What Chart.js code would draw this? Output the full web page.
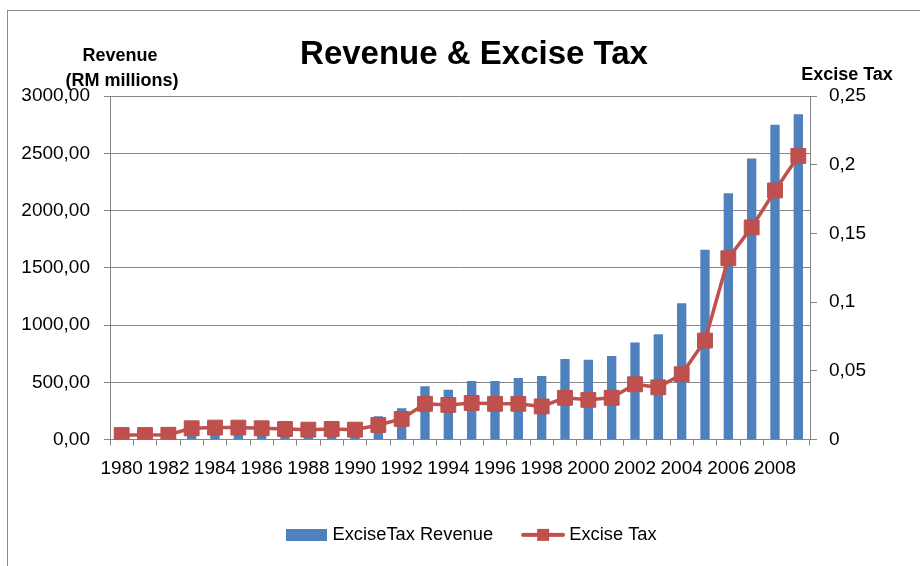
<!DOCTYPE html>
<html>
<head>
<meta charset="utf-8">
<script src="https://cdn.jsdelivr.net/npm/chart.js@4"></script>
<style>
  html, body { margin: 0; padding: 0; background: #fff; }
  #wrap { width: 920px; height: 566px; position: relative; }
</style>
</head>
<body>
<div id="wrap"><canvas id="revenueChart"></canvas></div>
<script>
const years = [
    '1980', '1981', '1982', '1983', '1984', '1985', '1986', '1987', '1988', '1989',
    '1990', '1991', '1992', '1993', '1994', '1995', '1996', '1997', '1998', '1999',
    '2000', '2001', '2002', '2003', '2004', '2005', '2006', '2007', '2008', '2009',
];

// ExciseTax Revenue (RM millions), left axis
const revenue = [
    58, 58, 62, 140, 150, 150, 142, 133, 125, 133,
    125, 205, 275, 466, 437, 513, 513, 539, 557, 704,
    698, 730, 848, 921, 1190, 1658, 2152, 2455, 2750, 2840,
];

// Excise Tax, right axis
const exciseTax = [
    0.0034, 0.0034, 0.0036, 0.0083, 0.0088, 0.0088, 0.0083, 0.0078, 0.0073, 0.0078,
    0.0073, 0.0107, 0.0151, 0.0261, 0.0253, 0.0267, 0.0261, 0.0261, 0.0242, 0.0305,
    0.0290, 0.0305, 0.0403, 0.0381, 0.0476, 0.0721, 0.1320, 0.1544, 0.1813, 0.2064,
];

const BLUE = '#4f81bd';
const RED = '#c0504d';
const GRAY = '#868686';
const FONT = '"Liberation Sans", Arial, sans-serif';

Chart.defaults.font.family = FONT;
Chart.defaults.color = '#000';

// legend icons
function iconBar() {
    const c = document.createElement('canvas');
    c.width = 41; c.height = 12;
    const g = c.getContext('2d');
    g.fillStyle = BLUE;
    g.fillRect(0, 0, 41, 12);
    return c;
}
function iconLine() {
    const c = document.createElement('canvas');
    c.width = 44; c.height = 14;
    const g = c.getContext('2d');
    g.strokeStyle = RED;
    g.lineWidth = 4;
    g.lineCap = 'round';
    g.beginPath();
    g.moveTo(2, 7);
    g.lineTo(42, 7);
    g.stroke();
    g.fillStyle = RED;
    g.fillRect(16, 1, 12, 12);
    return c;
}
const legendIcons = [iconBar(), iconLine()];

// border + free text (horizontal axis titles, chart title)
const textsPlugin = {
    id: 'texts',
    afterLayout(chart) {
        // nudge the legend row to where the original sits
        if (chart.legend) {
            chart.legend.left += 13;
            chart.legend.right += 13;
        }
    },
    beforeDraw(chart) {
        const ctx = chart.ctx;
        ctx.save();
        ctx.fillStyle = '#fff';
        ctx.fillRect(0, 0, chart.width, chart.height);
        ctx.strokeStyle = '#8a8a8a';
        ctx.lineWidth = 1;
        ctx.strokeRect(7.5, 10.5, 1000, 1000);
        ctx.restore();
    },
    afterDraw(chart) {
        const ctx = chart.ctx;
        ctx.save();
        ctx.fillStyle = '#000';
        ctx.textAlign = 'center';
        ctx.textBaseline = 'alphabetic';
        ctx.font = 'bold 33px ' + FONT;
        ctx.fillText('Revenue & Excise Tax', 474, 64);
        ctx.font = 'bold 18px ' + FONT;
        ctx.fillText('Revenue', 120, 61);
        ctx.fillText('(RM millions)', 122, 86);
        ctx.fillText('Excise Tax', 847, 80);
        ctx.restore();
    }
};

const config = {
    type: 'bar',
    data: {
        labels: years,
        datasets: [{
            type: 'bar',
            label: 'ExciseTax Revenue',
            data: revenue,
            backgroundColor: BLUE,
            borderWidth: 0,
            barPercentage: 0.4,
            categoryPercentage: 1.0,
            yAxisID: 'y',
            order: 1,
        }, {
            type: 'line',
            label: 'Excise Tax',
            data: exciseTax,
            borderColor: RED,
            backgroundColor: RED,
            borderWidth: 3.5,
            tension: 0,
            pointStyle: 'rect',
            pointRadius: 10.5,
            pointBorderWidth: 1,
            pointBorderColor: '#b9504d',
            pointBackgroundColor: RED,
            yAxisID: 'y1',
            order: 0,
        }]
    },
    options: {
        responsive: true,
        maintainAspectRatio: false,
        animation: false,
        layout: {
            padding: { top: 96, left: 0, right: 0, bottom: 12 }
        },
        scales: {
            x: {
                grid: {
                    offset: true,
                    drawOnChartArea: false,
                    color: GRAY,
                    tickLength: 6,
                },
                border: { color: GRAY },
                ticks: {
                    autoSkip: false,
                    maxRotation: 0,
                    padding: 12,
                    font: { size: 19 },
                    callback: (v, i) => (i % 2 === 0 ? years[i] : ''),
                },
                afterFit: (s) => { s.height = 53; },
            },
            y: {
                position: 'left',
                min: 0,
                max: 3000,
                ticks: {
                    stepSize: 500,
                    padding: 14,
                    font: { size: 19 },
                    callback: (v) => v.toFixed(2).replace('.', ','),
                },
                grid: { color: GRAY, tickLength: 6 },
                border: { color: GRAY },
                afterFit: (s) => { s.width = 110; },
            },
            y1: {
                position: 'right',
                min: 0,
                max: 0.25,
                ticks: {
                    stepSize: 0.05,
                    padding: 12,
                    font: { size: 19 },
                    callback: (v) => String(Number(v.toFixed(2))).replace('.', ','),
                },
                grid: { drawOnChartArea: false, color: GRAY, tickLength: 7 },
                border: { color: GRAY },
                afterFit: (s) => { s.width = 110; },
            }
        },
        plugins: {
            title: { display: false },
            tooltip: { enabled: false },
            legend: {
                position: 'bottom',
                labels: {
                    usePointStyle: true,
                    pointStyleWidth: 34,
                    padding: 33,
                    font: { size: 18.3 },
                    color: '#000',
                    sort: (a, b) => a.datasetIndex - b.datasetIndex,
                    generateLabels: (chart) => {
                        const items = Chart.defaults.plugins.legend.labels.generateLabels(chart);
                        items.forEach((it) => { it.pointStyle = legendIcons[it.datasetIndex]; });
                        return items;
                    }
                }
            }
        }
    },
    plugins: [textsPlugin]
};

const revenueChart = new Chart(
    document.getElementById('revenueChart'),
    config
);
</script>
</body>
</html>
